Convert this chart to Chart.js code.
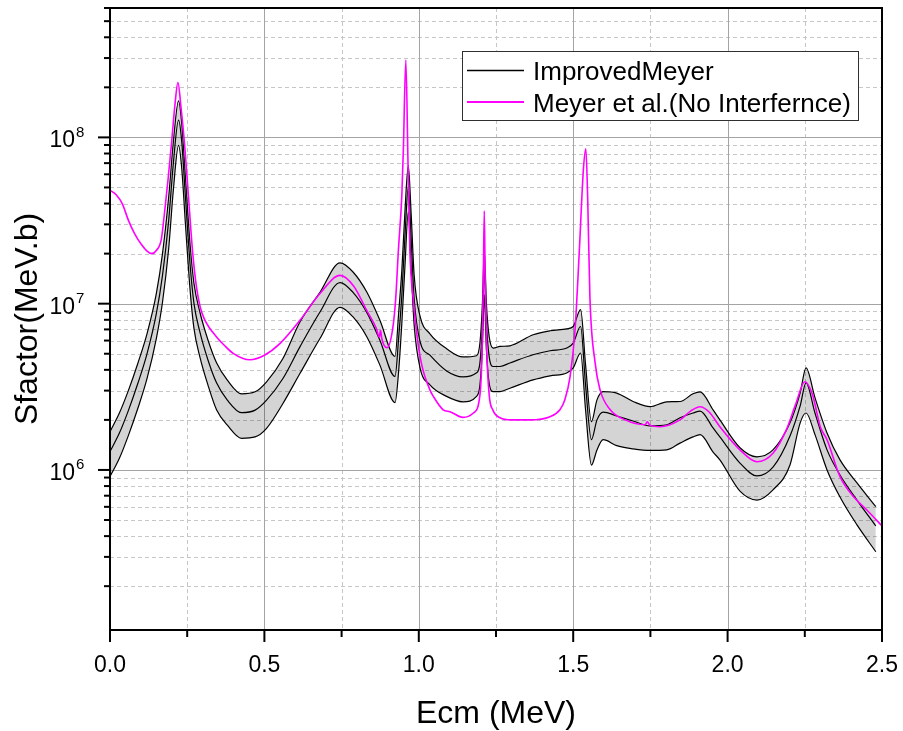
<!DOCTYPE html>
<html>
<head>
<meta charset="utf-8">
<title>Sfactor vs Ecm</title>
<script src="https://cdn.jsdelivr.net/npm/chart.js@4.4.1/dist/chart.umd.min.js"></script>
<style>
  html, body { margin: 0; padding: 0; background: #fff; }
  #wrap { width: 903px; height: 731px; }
</style>
</head>
<body>
<div id="wrap"><canvas id="sfactor-chart" width="903" height="731"></canvas></div>
<script>
// ImprovedMeyer: central curve with upper/lower band (MeV, MeV.b)
const bandEnergy = [0.000, 0.030, 0.060, 0.090, 0.120, 0.150, 0.170, 0.190, 0.205, 0.222,
  0.232, 0.245, 0.260, 0.272, 0.291, 0.317, 0.345, 0.380, 0.426, 0.470,
  0.507, 0.560, 0.615, 0.680, 0.745, 0.787, 0.832, 0.874, 0.923, 0.935,
  0.945, 0.955, 0.966, 0.975, 0.985, 1.004, 1.036, 1.090, 1.143, 1.187,
  1.198, 1.206, 1.212, 1.219, 1.228, 1.241, 1.263, 1.295, 1.370, 1.425,
  1.479, 1.500, 1.524, 1.540, 1.559, 1.577, 1.597, 1.641, 1.694, 1.749,
  1.803, 1.846, 1.888, 1.911, 1.953, 1.975, 2.040, 2.095, 2.147, 2.202,
  2.235, 2.254, 2.283, 2.322, 2.364, 2.419, 2.480];

const improvedUpper = [1.70e6, 2.19e6, 3.02e6, 4.37e6, 6.61e6, 1.15e7, 2.00e7, 4.37e7, 9.33e7, 1.66e8,
  1.23e8, 5.50e7, 2.19e7, 1.32e7, 8.91e6, 6.07e6, 4.41e6, 3.47e6, 2.87e6, 2.95e6,
  3.39e6, 4.68e6, 7.76e6, 1.17e7, 1.76e7, 1.55e7, 1.17e7, 7.94e6, 4.82e6, 8.91e6,
  1.58e7, 3.55e7, 6.76e7, 3.55e7, 1.48e7, 8.41e6, 6.59e6, 5.36e6, 4.78e6, 4.86e6,
  5.82e6, 1.00e7, 2.11e7, 1.00e7, 6.31e6, 5.41e6, 5.53e6, 5.58e6, 6.50e6, 6.87e6,
  7.06e6, 7.29e6, 9.20e6, 4.30e6, 1.95e6, 2.64e6, 2.96e6, 2.90e6, 2.58e6, 2.40e6,
  2.57e6, 2.58e6, 2.87e6, 2.95e6, 2.30e6, 2.00e6, 1.36e6, 1.20e6, 1.32e6, 1.92e6,
  2.91e6, 4.11e6, 2.72e6, 1.67e6, 1.15e6, 8.36e5, 6.01e5];

const improvedCentral = [1.29e6, 1.66e6, 2.29e6, 3.31e6, 5.01e6, 8.71e6, 1.48e7, 3.16e7, 6.92e7, 1.27e8,
  9.55e7, 4.17e7, 1.66e7, 1.00e7, 6.76e6, 4.60e6, 3.34e6, 2.63e6, 2.21e6, 2.29e6,
  2.63e6, 3.55e6, 5.50e6, 8.91e6, 1.34e7, 1.17e7, 8.83e6, 6.03e6, 3.65e6, 6.31e6,
  1.12e7, 2.51e7, 5.01e7, 2.51e7, 1.07e7, 5.93e6, 4.90e6, 3.94e6, 3.63e6, 3.84e6,
  4.42e6, 7.59e6, 1.60e7, 7.59e6, 4.79e6, 4.19e6, 4.19e6, 4.40e6, 4.93e6, 5.21e6,
  5.41e6, 5.79e6, 7.29e6, 3.25e6, 1.52e6, 2.00e6, 2.23e6, 2.11e6, 1.97e6, 1.84e6,
  1.87e6, 2.06e6, 2.20e6, 2.26e6, 1.79e6, 1.58e6, 1.10e6, 9.20e5, 1.04e6, 1.60e6,
  2.43e6, 3.34e6, 2.20e6, 1.32e6, 9.33e5, 6.59e5, 4.60e5];

const improvedLower = [9.12e5, 1.17e6, 1.62e6, 2.34e6, 3.55e6, 6.17e6, 1.02e7, 2.14e7, 4.79e7, 8.95e7,
  6.61e7, 2.88e7, 1.17e7, 7.08e6, 4.79e6, 3.25e6, 2.30e6, 1.86e6, 1.55e6, 1.58e6,
  1.78e6, 2.51e6, 3.80e6, 6.17e6, 9.51e6, 8.32e6, 6.31e6, 4.27e6, 2.54e6, 3.98e6,
  7.59e6, 1.66e7, 3.55e7, 1.66e7, 7.41e6, 4.11e6, 3.25e6, 2.77e6, 2.57e6, 2.77e6,
  3.25e6, 5.50e6, 1.13e7, 5.25e6, 3.31e6, 2.96e6, 2.96e6, 3.10e6, 3.48e6, 3.68e6,
  3.83e6, 4.11e6, 5.05e6, 2.30e6, 1.07e6, 1.32e6, 1.52e6, 1.40e6, 1.34e6, 1.31e6,
  1.32e6, 1.45e6, 1.58e6, 1.63e6, 1.28e6, 1.15e6, 7.46e5, 6.59e5, 7.59e5, 1.07e6,
  1.92e6, 2.20e6, 1.63e6, 1.00e6, 6.87e5, 4.67e5, 3.22e5];

// Meyer et al. without interference
const meyerEnergy = [0.000, 0.020, 0.040, 0.060, 0.080, 0.100, 0.120, 0.135, 0.150, 0.166,
  0.175, 0.188, 0.200, 0.210, 0.220, 0.230, 0.242, 0.255, 0.268, 0.280,
  0.292, 0.305, 0.320, 0.345, 0.370, 0.400, 0.453, 0.500, 0.550, 0.615,
  0.680, 0.745, 0.790, 0.830, 0.862, 0.872, 0.876, 0.880, 0.897, 0.915,
  0.925, 0.934, 0.945, 0.950, 0.958, 0.965, 0.971, 0.982, 1.004, 1.036,
  1.047, 1.079, 1.101, 1.143, 1.177, 1.198, 1.205, 1.209, 1.212, 1.215,
  1.220, 1.228, 1.240, 1.263, 1.300, 1.360, 1.425, 1.457, 1.473, 1.490,
  1.506, 1.520, 1.533, 1.541, 1.547, 1.554, 1.571, 1.587, 1.620, 1.668,
  1.733, 1.740, 1.748, 1.781, 1.846, 1.880, 1.911, 1.940, 1.975, 2.040,
  2.095, 2.147, 2.190, 2.220, 2.250, 2.275, 2.300, 2.322, 2.364, 2.408,
  2.451, 2.500];

const meyerSfactor = [4.80e7, 4.52e7, 3.98e7, 3.16e7, 2.63e7, 2.29e7, 2.07e7, 2.00e7, 2.09e7, 2.43e7,
  3.31e7, 5.58e7, 9.55e7, 1.55e8, 2.14e8, 1.51e8, 8.87e7, 4.17e7, 2.00e7, 1.26e7,
  9.55e6, 8.13e6, 7.24e6, 6.31e6, 5.62e6, 5.01e6, 4.60e6, 4.90e6, 5.75e6, 7.94e6,
  1.15e7, 1.48e7, 1.27e7, 9.20e6, 7.14e6, 6.31e6, 6.92e6, 6.17e6, 5.43e6, 6.97e6,
  1.06e7, 2.11e7, 4.47e7, 8.47e7, 2.92e8, 7.08e7, 2.11e7, 1.06e7, 4.82e6, 3.03e6,
  2.77e6, 2.30e6, 2.24e6, 2.07e6, 2.20e6, 2.83e6, 5.25e6, 1.40e7, 3.60e7, 1.40e7,
  5.25e6, 2.82e6, 2.29e6, 2.06e6, 2.00e6, 2.00e6, 2.09e6, 2.30e6, 2.64e6, 3.65e6,
  6.97e6, 2.11e7, 6.41e7, 8.55e7, 4.24e7, 1.11e7, 4.40e6, 3.03e6, 2.30e6, 2.00e6,
  1.87e6, 1.95e6, 1.86e6, 1.82e6, 2.00e6, 2.26e6, 2.40e6, 2.23e6, 1.82e6, 1.32e6,
  1.12e6, 1.26e6, 1.74e6, 2.47e6, 3.39e6, 2.83e6, 1.82e6, 1.52e6, 9.12e5, 6.90e5,
  5.74e5, 4.60e5];

// axes
const xMajorTicks = [0, 0.5, 1.0, 1.5, 2.0, 2.5];
const xMinorTicks = [0.25, 0.75, 1.25, 1.75, 2.25];
const yDecades = [1e6, 1e7, 1e8];
const yMinorTicks = [2e5, 3e5, 4e5, 5e5, 6e5, 7e5, 8e5, 9e5,
  2e6, 3e6, 4e6, 5e6, 6e6, 7e6, 8e6, 9e6,
  2e7, 3e7, 4e7, 5e7, 6e7, 7e7, 8e7, 9e7,
  2e8, 3e8, 4e8, 5e8, 6e8];
const yMin = 1.09e5;
const yMax = 6e8;

const seriesLabels = ['ImprovedMeyer', 'Meyer et al.(No Interfernce)'];
const xTitle = 'Ecm (MeV)';
const yTitle = 'Sfactor(MeV.b)';

const FONT = '"Liberation Sans", Arial, Helvetica, sans-serif';
const BLACK = '#000000';
const MAGENTA = '#ff00ff';

function toPoints(xs, ys) {
  return xs.map((x, i) => ({ x, y: ys[i] }));
}

function strokeLine(ctx, x1, y1, x2, y2) {
  ctx.beginPath();
  ctx.moveTo(x1, y1);
  ctx.lineTo(x2, y2);
  ctx.stroke();
}

// grid, frame, ticks, labels and legend drawn around the plot area
const axisDecor = {
  id: 'axisDecor',
  beforeDraw(chart) {
    const { ctx, chartArea: a, scales: { x, y } } = chart;
    ctx.save();
    ctx.lineWidth = 1;

    ctx.strokeStyle = '#c6c6c6';
    ctx.setLineDash([4, 3]);
    xMinorTicks.forEach(v => {
      const px = Math.round(x.getPixelForValue(v)) + 0.5;
      strokeLine(ctx, px, a.top, px, a.bottom);
    });
    yMinorTicks.forEach(v => {
      const py = Math.round(y.getPixelForValue(v)) + 0.5;
      strokeLine(ctx, a.left, py, a.right, py);
    });

    ctx.setLineDash([]);
    ctx.strokeStyle = '#a4a4a4';
    xMajorTicks.forEach(v => {
      const px = Math.round(x.getPixelForValue(v)) + 0.5;
      strokeLine(ctx, px, a.top, px, a.bottom);
    });
    yDecades.forEach(v => {
      const py = Math.round(y.getPixelForValue(v)) + 0.5;
      strokeLine(ctx, a.left, py, a.right, py);
    });
    ctx.restore();
  },
  afterDraw(chart) {
    const { ctx, chartArea: a, scales: { x, y } } = chart;
    ctx.save();

    // frame
    ctx.strokeStyle = BLACK;
    ctx.lineWidth = 2;
    ctx.strokeRect(a.left, a.top, a.right - a.left, a.bottom - a.top);

    // tick marks, pointing outward
    xMajorTicks.forEach(v => {
      const px = x.getPixelForValue(v);
      strokeLine(ctx, px, a.bottom, px, a.bottom + 12);
    });
    xMinorTicks.forEach(v => {
      const px = x.getPixelForValue(v);
      strokeLine(ctx, px, a.bottom, px, a.bottom + 7);
    });
    yDecades.forEach(v => {
      const py = y.getPixelForValue(v);
      strokeLine(ctx, a.left - 12, py, a.left, py);
    });
    yMinorTicks.forEach(v => {
      const py = y.getPixelForValue(v);
      strokeLine(ctx, a.left - 6, py, a.left, py);
    });

    // x tick labels
    ctx.fillStyle = BLACK;
    ctx.font = '23px ' + FONT;
    ctx.textAlign = 'center';
    ctx.textBaseline = 'alphabetic';
    xMajorTicks.forEach(v => {
      ctx.fillText(v.toFixed(1), x.getPixelForValue(v), 672);
    });

    // y tick labels as 10 with a raised exponent
    yDecades.forEach(v => {
      const py = y.getPixelForValue(v);
      ctx.font = '23px ' + FONT;
      ctx.textAlign = 'right';
      ctx.fillText('10', 75, py + 10);
      ctx.font = '15px ' + FONT;
      ctx.textAlign = 'left';
      ctx.fillText(String(Math.round(Math.log10(v))), 76, py - 0.5);
    });

    // axis titles
    ctx.font = '32px ' + FONT;
    ctx.textAlign = 'center';
    ctx.fillText(xTitle, (a.left + a.right) / 2, 723);
    ctx.save();
    ctx.translate(37, (a.top + a.bottom) / 2);
    ctx.rotate(-Math.PI / 2);
    ctx.fillText(yTitle, 0, 0);
    ctx.restore();

    // legend box
    const bx = 462.5, by = 51.5, bw = 396, bh = 69;
    ctx.fillStyle = '#ffffff';
    ctx.fillRect(bx, by, bw, bh);
    ctx.strokeStyle = '#303030';
    ctx.lineWidth = 1;
    ctx.strokeRect(bx, by, bw, bh);

    ctx.strokeStyle = BLACK;
    ctx.lineWidth = 1.3;
    strokeLine(ctx, 467, 70.5, 524, 70.5);
    ctx.strokeStyle = MAGENTA;
    ctx.lineWidth = 2;
    strokeLine(ctx, 467, 102, 524, 102);

    ctx.fillStyle = BLACK;
    ctx.font = '26px ' + FONT;
    ctx.textAlign = 'left';
    ctx.fillText(seriesLabels[0], 533, 79.5);
    ctx.fillText(seriesLabels[1], 533, 111.5);

    ctx.restore();
  }
};

const lineDefaults = {
  pointRadius: 0,
  pointHoverRadius: 0,
  cubicInterpolationMode: 'monotone',
  fill: false
};

const ctx = document.getElementById('sfactor-chart').getContext('2d');

new Chart(ctx, {
  type: 'line',
  data: {
    datasets: [
      {
        ...lineDefaults,
        label: seriesLabels[1],
        data: toPoints(meyerEnergy, meyerSfactor),
        borderColor: MAGENTA,
        borderWidth: 1.6
      },
      {
        ...lineDefaults,
        label: seriesLabels[0] + ' upper',
        data: toPoints(bandEnergy, improvedUpper),
        borderColor: BLACK,
        borderWidth: 1.2,
        fill: '+1',
        backgroundColor: 'rgba(0, 0, 0, 0.17)'
      },
      {
        ...lineDefaults,
        label: seriesLabels[0] + ' lower',
        data: toPoints(bandEnergy, improvedLower),
        borderColor: BLACK,
        borderWidth: 1.2
      },
      {
        ...lineDefaults,
        label: seriesLabels[0],
        data: toPoints(bandEnergy, improvedCentral),
        borderColor: BLACK,
        borderWidth: 1.2
      }
    ]
  },
  options: {
    responsive: false,
    devicePixelRatio: 1,
    animation: false,
    parsing: false,
    normalized: true,
    layout: {
      padding: { top: 8, right: 21, left: 0, bottom: 0 }
    },
    plugins: {
      legend: { display: false },
      tooltip: { enabled: false },
      filler: { drawTime: 'beforeDatasetsDraw' }
    },
    scales: {
      x: {
        type: 'linear',
        min: 0,
        max: 2.5,
        grid: { display: false },
        border: { display: false },
        ticks: { display: false },
        afterFit: scale => { scale.height = 101; }
      },
      y: {
        type: 'logarithmic',
        min: yMin,
        max: yMax,
        grid: { display: false },
        border: { display: false },
        ticks: { display: false },
        afterFit: scale => { scale.width = 110; }
      }
    }
  },
  plugins: [axisDecor]
});
</script>
</body>
</html>
